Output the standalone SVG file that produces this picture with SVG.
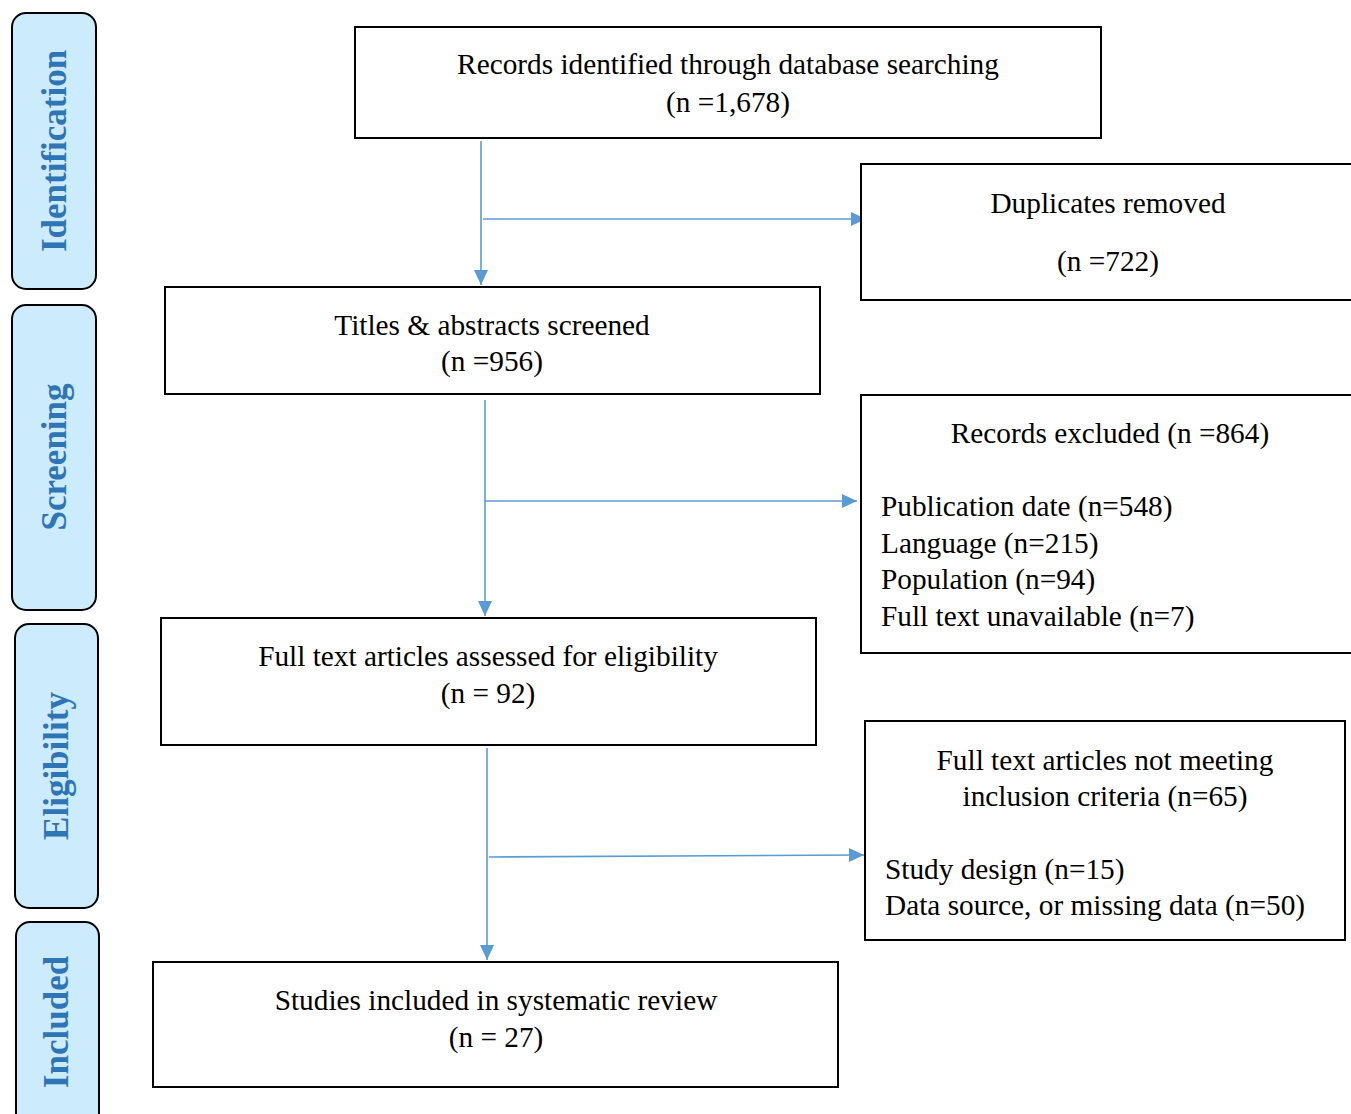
<svg xmlns="http://www.w3.org/2000/svg" width="1351" height="1114" viewBox="0 0 1351 1114">
<style>
.phase{fill:#CCEBFC;stroke:#000;stroke-width:2}
.ptxt{font-family:"Liberation Serif","Times New Roman",serif;font-weight:bold;font-size:35px;fill:#2E75B6;text-anchor:middle}
.box{fill:#fff;stroke:#000;stroke-width:2}
.t{font-family:"Liberation Serif","Times New Roman",serif;font-size:29.3px;fill:#000}
.c{text-anchor:middle}
.conn{stroke:#5B9BD5;stroke-width:1.6;fill:none;marker-end:url(#ah)}
</style>
<defs>
<marker id="ah" markerUnits="userSpaceOnUse" markerWidth="16" markerHeight="16" viewBox="0 0 16 16" refX="15" refY="8" orient="auto">
<path d="M0,1 L15,8 L0,15 Z" fill="#5B9BD5"/>
</marker>
</defs>
<rect width="1351" height="1114" fill="#fff"/>
<g id="phase-identification"><rect class="phase" x="12" y="13" width="84" height="276" rx="14"/><text class="ptxt" transform="translate(66,151) rotate(-90)">Identification</text></g>
<g id="phase-screening"><rect class="phase" x="12" y="305" width="84" height="305" rx="14"/><text class="ptxt" transform="translate(66,457) rotate(-90)">Screening</text></g>
<g id="phase-eligibility"><rect class="phase" x="15" y="624" width="83" height="284" rx="14"/><text class="ptxt" transform="translate(68,766) rotate(-90)">Eligibility</text></g>
<g id="phase-included"><rect class="phase" x="16" y="922" width="83" height="210" rx="14"/><text class="ptxt" transform="translate(68,1022) rotate(-90)">Included</text></g>

<g id="connectors">
<line class="conn" x1="481" y1="141" x2="481" y2="285"/>
<line class="conn" x1="483" y1="219" x2="866" y2="219"/>
<line class="conn" x1="485" y1="400" x2="485" y2="616"/>
<line class="conn" x1="485" y1="501" x2="857" y2="501"/>
<line class="conn" x1="487" y1="748" x2="487" y2="960"/>
<line class="conn" x1="489" y1="857" x2="864" y2="855"/>
</g>

<g id="n-records"><rect class="box" x="355" y="27" width="746" height="111"/>
<text class="t c" x="728" y="74">Records identified through database searching</text>
<text class="t c" x="728" y="112">(n =1,678)</text></g>

<g id="n-duplicates"><rect class="box" x="861" y="164" width="500" height="136"/>
<text class="t c" x="1108" y="213">Duplicates removed</text>
<text class="t c" x="1108" y="271">(n =722)</text></g>

<g id="n-titles"><rect class="box" x="165" y="287" width="655" height="107"/>
<text class="t c" x="492" y="335">Titles &amp; abstracts screened</text>
<text class="t c" x="492" y="371">(n =956)</text></g>

<g id="n-excluded"><rect class="box" x="861" y="395" width="500" height="258"/>
<text class="t c" x="1110" y="443">Records excluded (n =864)</text>
<text class="t" x="881" y="516">Publication date (n=548)</text>
<text class="t" x="881" y="553">Language (n=215)</text>
<text class="t" x="881" y="589">Population (n=94)</text>
<text class="t" x="881" y="626">Full text unavailable (n=7)</text></g>

<g id="n-fulltext"><rect class="box" x="161" y="618" width="655" height="127"/>
<text class="t c" x="488" y="666">Full text articles assessed for eligibility</text>
<text class="t c" x="488" y="703">(n = 92)</text></g>

<g id="n-notmeeting"><rect class="box" x="865" y="721" width="480" height="219"/>
<text class="t c" x="1105" y="770">Full text articles not meeting</text>
<text class="t c" x="1105" y="806">inclusion criteria (n=65)</text>
<text class="t" x="885" y="879">Study design (n=15)</text>
<text class="t" x="885" y="915">Data source, or missing data (n=50)</text></g>

<g id="n-included"><rect class="box" x="153" y="962" width="685" height="125"/>
<text class="t c" x="496" y="1010">Studies included in systematic review</text>
<text class="t c" x="496" y="1047">(n = 27)</text></g>
</svg>
